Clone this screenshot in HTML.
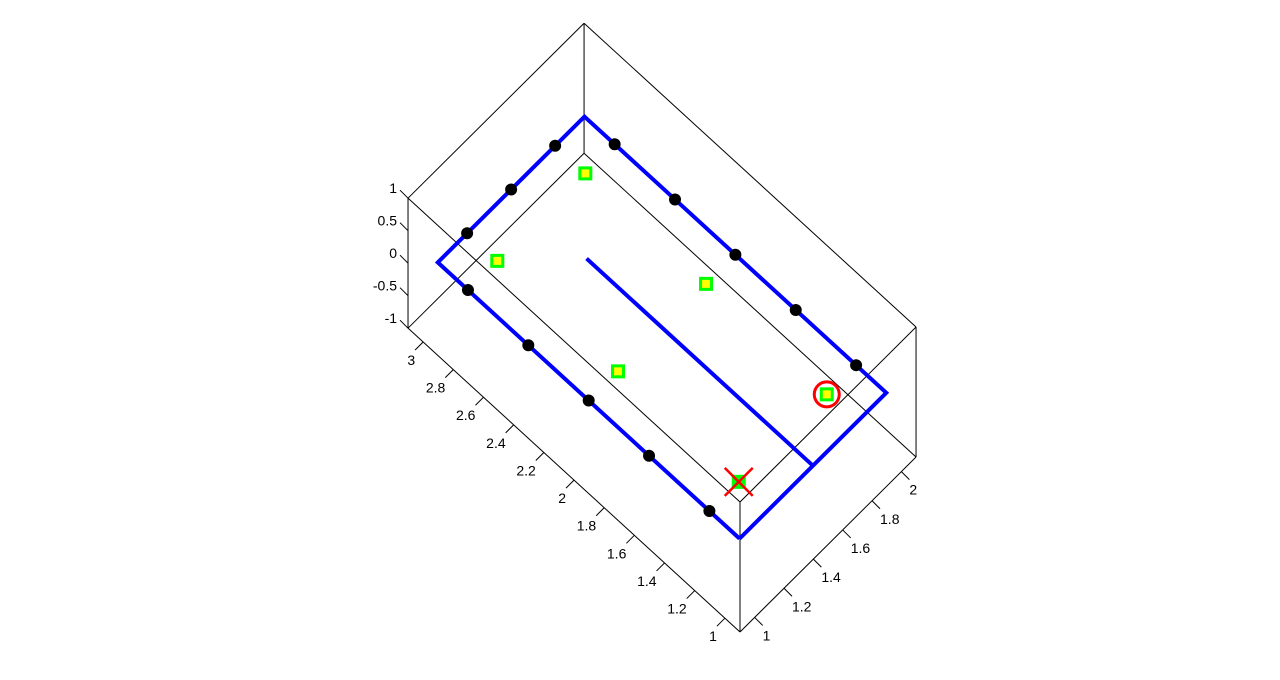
<!DOCTYPE html>
<html><head><meta charset="utf-8"><style>
html,body{margin:0;padding:0;background:#fff;}
svg{display:block;font-family:"Liberation Sans",Arial,sans-serif;font-size:14px;}
</style></head><body>
<svg id="chart" width="1280" height="680" viewBox="0 0 1280 680" xmlns="http://www.w3.org/2000/svg">
<g id="box"></g>
<g id="ticks"></g>
<g id="paths"></g>
<g id="marks"></g>
</svg>
<script>
const xTicks = [1, 1.2, 1.4, 1.6, 1.8, 2];
const xTickLabels = ["1", "1.2", "1.4", "1.6", "1.8", "2"];
const yTicks = [1, 1.2, 1.4, 1.6, 1.8, 2, 2.2, 2.4, 2.6, 2.8, 3];
const yTickLabels = ["1", "1.2", "1.4", "1.6", "1.8", "2", "2.2", "2.4", "2.6", "2.8", "3"];
const zTicks = [-1, -0.5, 0, 0.5, 1];
const zTickLabels = ["-1", "-0.5", "0", "0.5", "1"];
const outerPathX = [1, 1, 2, 2, 1];
const outerPathY = [1, 3, 3, 1, 1];
const outerPathZ = [0, 0, 0, 0, 0];
const innerPathX = [1.5, 1.5];
const innerPathY = [2.5, 1.0];
const innerPathZ = [0, 0];
const dotX = [1, 1, 1, 1, 1, 1.2, 1.5, 1.8, 2, 2, 2, 2, 2];
const dotY = [2.8, 2.4, 2.0, 1.6, 1.2, 3, 3, 3, 2.8, 2.4, 2.0, 1.6, 1.2];
const squareX = [1.2, 1.8, 1.2, 1.8, 1.2, 1.8];
const squareY = [2.8, 2.8, 2.0, 2.0, 1.2, 1.2];
const goalX = [1.8], goalY = [1.2];
const startX = [1.2], startY = [1.2];

const XMIN=0.9, XMAX=2.1, YMIN=0.9, YMAX=3.1, ZMIN=-1, ZMAX=1;
const O=[740,632], EX=[146.7,-145.8], EY=[-150.9,-138.1], EZ=[0,-65];
function P(x,y,z){return [O[0]+(x-XMIN)*EX[0]+(y-YMIN)*EY[0]+(z-ZMIN)*EZ[0],
                          O[1]+(x-XMIN)*EX[1]+(y-YMIN)*EY[1]+(z-ZMIN)*EZ[1]];}
const NS="http://www.w3.org/2000/svg";
function mk(tag,attrs,parent){const e=document.createElementNS(NS,tag);for(const k in attrs)e.setAttribute(k,attrs[k]);parent.appendChild(e);return e;}
const box=document.getElementById('box'),tk=document.getElementById('ticks'),pg=document.getElementById('paths'),mg=document.getElementById('marks');

const C=[];for(const x of [XMIN,XMAX])for(const y of [YMIN,YMAX])for(const z of [ZMIN,ZMAX])C.push([x,y,z]);
for(let i=0;i<8;i++)for(let j=i+1;j<8;j++){let d=0;for(let k=0;k<3;k++)if(C[i][k]!==C[j][k])d++;
 if(d===1){const a=P(...C[i]),b=P(...C[j]);
  const l=mk('line',{x1:a[0],y1:a[1],x2:b[0],y2:b[1],stroke:'#000','stroke-width':1},box);
  
  }}

xTicks.forEach((v,i)=>{const a=P(v,YMIN,ZMIN);
 const l=mk('line',{x1:a[0],y1:a[1],x2:a[0]+8,y2:a[1]+8,stroke:'#000'},tk);
 
 
 const t=mk('text',{x:a[0]+8,y:a[1]+23},tk);t.textContent=xTickLabels[i];
 
 });
yTicks.forEach((v,i)=>{const a=P(XMIN,v,ZMIN);
 const l=mk('line',{x1:a[0],y1:a[1],x2:a[0]-8,y2:a[1]+8,stroke:'#000'},tk);
 
 
 const t=mk('text',{x:a[0]-8,y:a[1]+23,'text-anchor':'end'},tk);t.textContent=yTickLabels[i];
 
 });
zTicks.forEach((v,i)=>{const a=P(XMIN,YMAX,v);
 const l=mk('line',{x1:a[0],y1:a[1],x2:a[0]-8,y2:a[1]-8,stroke:'#000'},tk);
 
 
 const t=mk('text',{x:a[0]-11,y:a[1]-5,'text-anchor':'end'},tk);t.textContent=zTickLabels[i];
 
 });

function poly(xs,ys,zs,name){const pts=xs.map((x,i)=>P(x,ys[i],zs[i]).join(',')).join(' ');
 const e=mk('polyline',{points:pts,fill:'none',stroke:'#0000ff','stroke-width':4,'stroke-linejoin':'miter'},pg);
 
 }
poly(outerPathX,outerPathY,outerPathZ,'outer-path');
poly(innerPathX,innerPathY,innerPathZ,'inner-path');

dotX.forEach((x,i)=>{const a=P(x,dotY[i],0);
 const c=mk('circle',{cx:a[0],cy:a[1],r:6,fill:'#000'},mg);
 
 });
squareX.forEach((x,i)=>{const a=P(x,squareY[i],0);
 const isStart=(x===startX[0]&&squareY[i]===startY[0]);
 const r=mk('rect',{x:a[0]-5.5,y:a[1]-5.5,width:11,height:11,fill:isStart?'#00ff00':'#ffff00',stroke:'#00ff00','stroke-width':3},mg);
 
 });
{const a=P(goalX[0],goalY[0],0);
 const c=mk('circle',{cx:a[0],cy:a[1],r:12.5,fill:'none',stroke:'#ff0000','stroke-width':3},mg);
 
 }
{const a=P(startX[0],startY[0],0);const s=14;
 const g=mk('g',{stroke:'#ff0000','stroke-width':2.5},mg);
 
 
 mk('line',{x1:a[0]-s,y1:a[1]-s,x2:a[0]+s,y2:a[1]+s},g);
 mk('line',{x1:a[0]-s,y1:a[1]+s,x2:a[0]+s,y2:a[1]-s},g);}
</script>
</body></html>
